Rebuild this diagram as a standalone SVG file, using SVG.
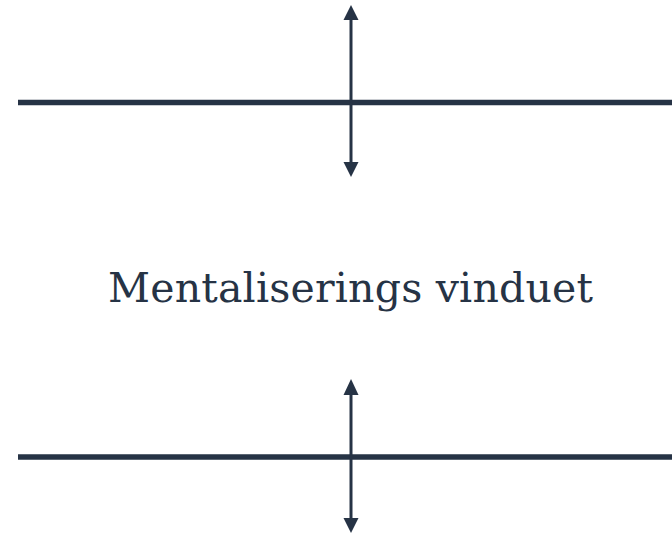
<svg xmlns="http://www.w3.org/2000/svg" width="672" height="535" viewBox="0 0 672 535">
<style>
.line{stroke:#263345;stroke-width:5.5;fill:none}
.shaft{stroke:#263345;stroke-width:3;fill:none}
.head{fill:#263345}
.label{font-family:"DejaVu Serif","Liberation Serif",serif;font-size:41px;fill:#263345}
</style>
<rect width="672" height="535" fill="#ffffff"/>
<g id="connectors">
<line class="line" x1="18" y1="102.5" x2="672" y2="102.5"/>
<line class="line" x1="18" y1="457" x2="672" y2="457"/>
<g id="arrow-top">
<line class="shaft" x1="351" y1="18" x2="351" y2="164"/>
<polygon class="head" points="351,5 358.5,20 343.5,20"/>
<polygon class="head" points="351,177 358.5,162 343.5,162"/>
</g>
<g id="arrow-bottom">
<line class="shaft" x1="351" y1="393" x2="351" y2="520"/>
<polygon class="head" points="351,379 358.5,395 343.5,395"/>
<polygon class="head" points="351,533 358.5,518 343.5,518"/>
</g>
</g>
<g id="label">
<text class="label" x="108" y="302" textLength="485" lengthAdjust="spacing">Mentaliserings vinduet</text>
</g>
</svg>
